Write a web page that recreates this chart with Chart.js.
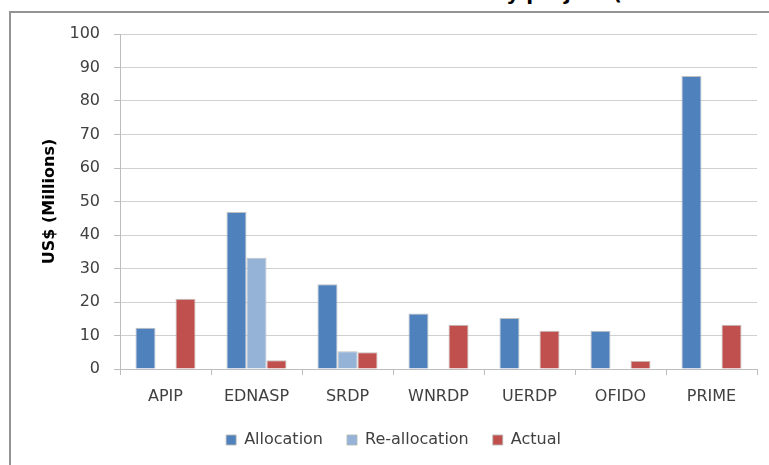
<!DOCTYPE html>
<html>
<head>
<meta charset="utf-8">
<script src="https://cdn.jsdelivr.net/npm/chart.js@4.4.1/dist/chart.umd.min.js"></script>
<style>
  body { margin: 0; background: #fff; overflow: hidden; }
  #wrap { position: relative; width: 769px; height: 465px; overflow: hidden; }
  #frame { position: absolute; left: 9px; top: 11px; right: -30px; bottom: -30px;
           border-top: 2px solid #949494; border-left: 2px solid #949494; }
  #title { position: absolute; top: -17px; right: 147px; white-space: nowrap;
           font: bold 20px "DejaVu Sans"; line-height: 20px; color: #000; }
  #mycanvas { position: absolute; left: 0; top: 0; }
</style>
</head>
<body>
<div id="wrap">
  <div id="title">Allocation and actual disbursement by project (</div>
  <div id="frame"></div>
  <canvas id="mycanvas" width="769" height="465"></canvas>
</div>
<script>
// values, US$ millions
var projects = ["APIP", "EDNASP", "SRDP", "WNRDP", "UERDP", "OFIDO", "PRIME"];
var allocation = [12.3, 46.9, 25.3, 16.6, 15.2, 11.4, 87.5];
var reallocation = [null, 33.2, 5.3, null, null, null, null];
var actual = [21.0, 2.6, 5.0, 13.2, 11.4, 2.5, 13.2];
var yTicks = [0, 10, 20, 30, 40, 50, 60, 70, 80, 90, 100];

var txt = "#404040";
var gridCol = "#d0d0d0";
var axisCol = "#bdbdbd";
var edge = "rgba(185,185,185,0.9)";

var ctx = document.getElementById("mycanvas").getContext("2d");
new Chart(ctx, {
    type: "bar",
    data: {
        labels: projects,
        datasets: [
            { label: "Allocation", data: allocation, backgroundColor: "#4F81BD", borderColor: edge, borderWidth: 1 },
            { label: "Re-allocation", data: reallocation, backgroundColor: "#95B3D7", borderColor: edge, borderWidth: 1 },
            { label: "Actual", data: actual, backgroundColor: "#C0504D", borderColor: edge, borderWidth: 1 }
        ]
    },
    options: {
        responsive: false,
        animation: false,
        layout: { padding: { left: 30, right: 12, top: 34, bottom: 7 } },
        datasets: { bar: { barPercentage: 1, categoryPercentage: 0.66 } },
        plugins: {
            legend: {
                position: "bottom",
                labels: {
                    boxWidth: 10, boxHeight: 10, padding: 24, color: txt,
                    font: { family: "DejaVu Sans", size: 16 }
                }
            },
            tooltip: { enabled: false }
        },
        scales: {
            x: {
                offset: true,
                grid: { drawOnChartArea: false, drawTicks: true, tickLength: 6, color: axisCol, offset: true },
                border: { color: axisCol },
                ticks: { color: txt, padding: 12, font: { family: "DejaVu Sans", size: 16 } },
                afterFit: function (s) { s.height = 39; }
            },
            y: {
                min: 0, max: 100,
                afterBuildTicks: function (s) { s.ticks = yTicks.map(function (v) { return { value: v }; }); },
                grid: { color: gridCol, tickLength: 6, tickColor: axisCol },
                border: { color: axisCol },
                ticks: { color: txt, padding: 14, font: { family: "DejaVu Sans", size: 16 } },
                title: {
                    display: true, text: "US$ (Millions)", color: "#000",
                    padding: { top: 10, bottom: 0 },
                    font: { family: "DejaVu Sans", size: 16, weight: "bold" }
                },
                afterFit: function (s) { s.width = 90; }
            }
        }
    }
});
</script>
</body>
</html>
